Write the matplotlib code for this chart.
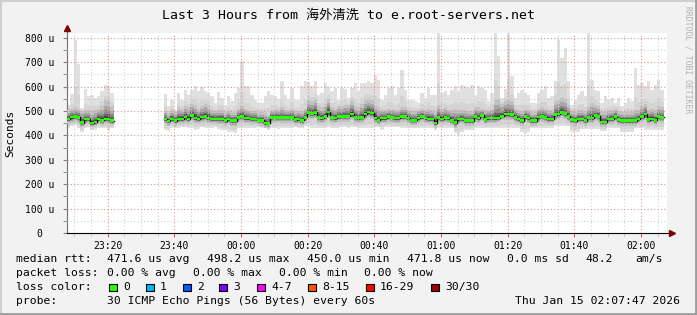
import numpy as np
import matplotlib
matplotlib.use('Agg')
import matplotlib.pyplot as plt

# datos (minutos desde 23:07:47, un punto por minuto, us)
nan = np.nan
gap = [nan] * 15  # minutos 14-28 sin datos

med = ([468, 475, 478, 474, 453, 467, 467, 451, 455, 468, 462, 468, 468, 460] + gap +
       [468, 459, 468, 460, 468, 468, 475, 468, 482, 471, 468, 475, 479, 471] +
       [468, 468, 468, 468, 460, 468, 460, 460, 474, 479, 471, 471, 468, 468, 462,
        462, 451, 450, 474, 474, 474, 474, 474, 474, 474, 464, 468, 462, 474, 495,
        489, 495, 474, 471, 479, 496, 474, 471, 477, 479, 479, 479, 488, 474, 471] +
       [474, 488, 496, 492, 471, 462, 471, 471, 478, 474, 471, 471, 477, 479, 471,
        462, 462, 471, 477, 471, 468, 468, 451, 474, 468, 474, 471, 462, 452, 467,
        468, 460, 460, 460, 477, 471, 482, 466, 471, 471, 471, 471, 479, 488, 488] +
       [485, 474, 468, 460, 477, 471, 460, 460, 475, 479, 474, 468, 468, 485, 488,
        495, 489, 479, 464, 460, 468, 468, 460, 474, 471, 482, 479, 455, 455, 468,
        468, 477, 464, 460, 460, 460, 460, 460, 468, 477, 488, 464, 468, 462, 477, 474])

hi = ([526, 570, 793, 693, 512, 590, 560, 567, 553, 560, 584, 606, 601, 574] + gap +
      [570, 519, 547, 505, 574, 547, 585, 567, 588, 601, 581, 597, 581, 574] +
      [560, 533, 577, 553, 526, 560, 540, 574, 595, 707, 601, 601, 567, 547, 533,
       533, 560, 581, 567, 560, 550, 622, 567, 550, 595, 547, 547, 601, 622, 618,
       601, 622, 567, 574, 615, 597, 581, 595, 547, 595, 590, 553, 595, 615, 581] +
      [615, 615, 622, 615, 649, 629, 547, 567, 595, 601, 567, 595, 670, 588, 547,
       547, 540, 533, 574, 553, 595, 567, 567, 820, 574, 581, 567, 588, 601, 581,
       608, 601, 595, 608, 567, 601, 595, 588, 543, 574, 820, 725, 553, 590, 820] +
      [642, 553, 574, 588, 574, 567, 533, 533, 574, 588, 601, 553, 560, 622, 793,
       718, 759, 622, 526, 547, 567, 581, 560, 820, 629, 588, 581, 533, 560, 547,
       553, 533, 553, 519, 533, 553, 540, 677, 608, 615, 601, 622, 588, 608, 629, 588])

lo = ([430, 437, 444, 430, 414, 430, 433, 423, 423, 430, 430, 430, 423, 430] + gap +
      [423, 419, 430, 430, 430, 433, 433, 430, 430, 423, 427, 433, 430, 430] +
      [430, 433, 427, 423, 423, 416, 414, 410, 430, 430, 430, 430, 430, 430, 433,
       430, 430, 423, 430, 430, 427, 430, 430, 430, 430, 433, 430, 430, 437, 437,
       430, 430, 430, 430, 430, 433, 430, 430, 430, 433, 433, 430, 433, 433, 430] +
      [430, 430, 430, 430, 433, 433, 423, 433, 433, 433, 433, 433, 430, 430, 430,
       430, 430, 430, 430, 430, 430, 430, 423, 430, 430, 430, 430, 430, 410, 403,
       416, 423, 423, 423, 430, 430, 430, 430, 430, 430, 430, 430, 430, 430, 430] +
      [430, 430, 430, 416, 405, 416, 430, 430, 430, 430, 430, 430, 430, 437, 437,
       437, 437, 437, 414, 414, 414, 427, 427, 427, 427, 427, 427, 419, 419, 430,
       430, 430, 430, 416, 416, 416, 416, 430, 430, 430, 423, 423, 423, 423, 423, 423])

up = ([505, 510, 515, 510, 500, 505, 505, 500, 505, 510, 520, 545, 540, 520] + gap +
      [500, 490, 505, 495, 515, 510, 520, 515, 530, 525, 510, 520, 530, 525] +
      [505, 500, 505, 505, 495, 500, 495, 495, 510, 520, 510, 505, 500, 500, 495,
       495, 490, 485, 505, 510, 505, 515, 505, 505, 510, 500, 500, 500, 510, 545,
       540, 550, 520, 515, 530, 550, 515, 510, 520, 520, 525, 525, 540, 520, 515] +
      [530, 545, 550, 545, 525, 515, 505, 505, 510, 510, 505, 505, 515, 515, 505,
       500, 500, 505, 510, 505, 510, 505, 500, 525, 510, 515, 505, 505, 510, 505,
       505, 505, 500, 500, 515, 515, 510, 505, 505, 510, 545, 550, 530, 540, 545] +
      [540, 510, 505, 500, 510, 505, 495, 495, 510, 515, 510, 505, 505, 540, 545,
       555, 550, 525, 500, 495, 505, 505, 500, 515, 535, 525, 520, 495, 495, 505,
       505, 510, 500, 495, 495, 495, 495, 505, 505, 520, 530, 505, 510, 505, 520, 515])

dn = ([448, 452, 455, 450, 435, 445, 448, 435, 438, 448, 442, 448, 445, 442] + gap +
      [445, 438, 448, 440, 448, 448, 452, 448, 458, 450, 448, 452, 455, 450] +
      [448, 448, 446, 445, 440, 446, 438, 436, 452, 456, 450, 450, 448, 448, 442,
       440, 432, 430, 452, 452, 454, 452, 452, 452, 450, 444, 446, 442, 452, 470,
       466, 470, 452, 450, 456, 470, 452, 450, 455, 456, 456, 456, 462, 452, 450] +
      [452, 464, 470, 468, 450, 442, 450, 450, 455, 452, 450, 450, 455, 456, 450,
       442, 442, 450, 455, 450, 447, 447, 432, 452, 447, 452, 450, 442, 430, 445,
       447, 440, 440, 440, 455, 450, 458, 445, 450, 450, 450, 456, 462, 464, 464] +
      [462, 452, 448, 440, 455, 450, 440, 440, 452, 456, 452, 447, 447, 462, 465,
       472, 466, 456, 444, 440, 447, 447, 440, 452, 450, 460, 456, 436, 436, 447,
       447, 455, 444, 440, 440, 440, 440, 440, 447, 455, 465, 444, 447, 442, 455, 452])

tick_pos = [12.217, 32.217, 52.217, 72.217, 92.217, 112.217, 132.217, 152.217, 172.217]
tick_lab = ['23:20', '23:40', '00:00', '00:20', '00:40', '01:00', '01:20', '01:40', '02:00']
y_ticks = [0, 100, 200, 300, 400, 500, 600, 700, 800]
y_labs = ['0  ', '100 u', '200 u', '300 u', '400 u', '500 u', '600 u', '700 u', '800 u']

loss_lab = ['0', '1', '2', '3', '4-7', '8-15', '16-29', '30/30']
loss_col = ['#26ff00', '#00b8ff', '#0059ff', '#7e00ff', '#ff00ff', '#ff5500', '#ff0000', '#a10000']

W, H = 697, 315
MONO = ['DejaVu Sans Mono', 'Noto Sans CJK SC']

def fx(px):
    return px / W

def fy(py):
    return 1 - py / H

def steps(v):
    return np.repeat(np.asarray(v, dtype=float), 2)

n = len(med)
xs = np.repeat(np.arange(n + 1), 2)[1:-1]
med_s, hi_s, lo_s, up_s, dn_s = steps(med), steps(hi), steps(lo), steps(up), steps(dn)

fig = plt.figure(figsize=(W / 100, H / 100), dpi=100, facecolor='#f2f2f2')
ax = fig.add_axes([fx(67), fy(233), fx(600), 200 / H])
ax.set_facecolor('white')

# humo (capas de gris)
ax.fill_between(xs, lo_s, hi_s, color='#e0e0e0', lw=0, zorder=2)
ax.fill_between(xs, lo_s + 0.4 * (dn_s - lo_s), up_s + 0.3 * (hi_s - up_s),
                color='#d4d4d4', lw=0, zorder=2)
capas = [(1.0, '#c2c2c2'), (0.7, '#a6a6a6'), (0.45, '#888888'), (0.28, '#666666'), (0.14, '#444444')]
for f, c in capas:
    ax.fill_between(xs, med_s - f * (med_s - dn_s), med_s + f * (up_s - med_s),
                    color=c, lw=0, zorder=3)

# mediana
ax.plot(xs, med_s, color='black', lw=1.0, zorder=5)
ax.fill_between(xs, med_s - 5.5, med_s + 5.5, color=loss_col[0], lw=0, zorder=6)

ax.set_xlim(0, 180)
ax.set_ylim(0, 820)

# rejilla
for m in np.arange(2.217, 180, 5):
    c = '#e09090' if any(abs(m - t) < 0.1 for t in tick_pos) else '#cfcfcf'
    ax.axvline(m, color=c, lw=0.8, ls=(0, (1, 2)), zorder=4)
for v in range(50, 820, 50):
    c = '#e09090' if v % 100 == 0 else '#cfcfcf'
    ax.axhline(v, color=c, lw=0.8, ls=(0, (1, 2)), zorder=4)

for s in ['top', 'right']:
    ax.spines[s].set_visible(False)
ax.spines['left'].set_color('#707070')
ax.spines['bottom'].set_color('black')
ax.spines['left'].set_bounds(0, 830)
ax.spines['bottom'].set_bounds(0, 182)
ax.plot([1.0 + 5 / 600], [0], marker='>', color='#7f0000', ms=4, transform=ax.transAxes, clip_on=False, zorder=7)
ax.plot([0], [1.0 + 5 / 200], marker='^', color='#7f0000', ms=4, transform=ax.transAxes, clip_on=False, zorder=7)

ax.set_xticks(tick_pos)
ax.set_xticklabels(tick_lab, family=MONO, fontsize=7)
ax.set_xticks(np.arange(2.217, 180, 5), minor=True)
ax.tick_params(axis='x', which='major', length=3, color='#e06060', pad=3)
ax.tick_params(axis='x', which='minor', length=2, color='#bbbbbb')
ax.set_yticks(y_ticks)
ax.set_yticklabels(y_labs, family=MONO, fontsize=7)
ax.set_yticks(range(50, 820, 100), minor=True)
ax.tick_params(axis='y', which='both', length=3, color='#808080', pad=6)

# textos
fig.text(fx(348), fy(15), 'Last 3 Hours from 海外清洗 to e.root-servers.net',
         family=MONO, fontsize=9.5, ha='center', va='center')
fig.text(fx(10), fy(133), 'Seconds', family=MONO, fontsize=8, rotation=90, ha='center', va='center')
fig.text(fx(688), fy(60), 'RRDTOOL / TOBI OETIKER', family=MONO, fontsize=5.8,
         rotation=270, ha='center', va='center', color='#b0b0b0')

fs = 8.2
fila1 = [(16, 'median rtt:'), (107, '471.6 us avg'), (207, '498.2 us max'), (307, '450.0 us min'),
         (407, '471.8 us now'), (507, '0.0 ms sd'), (585, '48.2'), (635, 'am/s')]
fila2 = [(16, 'packet loss:'), (107, '0.00 % avg'), (193, '0.00 % max'), (279, '0.00 % min'),
         (364, '0.00 % now')]
for x, t in fila1:
    fig.text(fx(x), fy(259), t, family=MONO, fontsize=fs, ha='left', va='center')
for x, t in fila2:
    fig.text(fx(x), fy(273), t, family=MONO, fontsize=fs, ha='left', va='center')

fig.text(fx(16), fy(287), 'loss color:', family=MONO, fontsize=fs, ha='left', va='center')
caja_x = [109, 146, 183, 219, 257, 308, 366, 431]
for bx, lab, col in zip(caja_x, loss_lab, loss_col):
    fig.patches.append(plt.Rectangle((fx(bx), fy(291)), fx(7.5), 7.5 / H, transform=fig.transFigure,
                                     facecolor=col, edgecolor='black', lw=0.8))
    fig.text(fx(bx + 14), fy(287), lab, family=MONO, fontsize=fs, ha='left', va='center')

fig.text(fx(16), fy(301), 'probe:', family=MONO, fontsize=fs, ha='left', va='center')
fig.text(fx(107), fy(301), '30 ICMP Echo Pings (56 Bytes) every 60s', family=MONO, fontsize=fs,
         ha='left', va='center')
fig.text(fx(680), fy(301), 'Thu Jan 15 02:07:47 2026', family=MONO, fontsize=fs, ha='right', va='center')

# marco sombreado
fig.add_artist(plt.Line2D([0, 1], [fy(1), fy(1)], color='#cfcfcf', lw=1.5, transform=fig.transFigure))
fig.add_artist(plt.Line2D([fx(1), fx(1)], [0, 1], color='#cfcfcf', lw=1.5, transform=fig.transFigure))
fig.add_artist(plt.Line2D([0, 1], [fy(313.5), fy(313.5)], color='#9e9e9e', lw=2, transform=fig.transFigure))
fig.add_artist(plt.Line2D([fx(695.5), fx(695.5)], [0, 1], color='#9e9e9e', lw=2, transform=fig.transFigure))

fig.savefig('out.png', dpi=100, facecolor=fig.get_facecolor())
